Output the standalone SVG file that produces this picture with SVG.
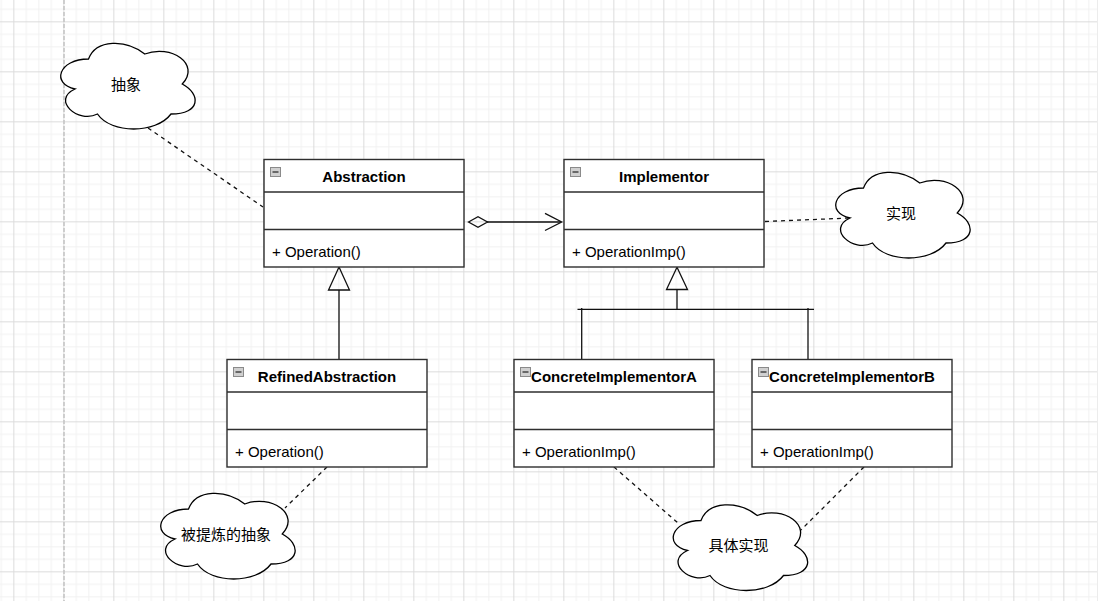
<svg xmlns="http://www.w3.org/2000/svg" width="1113" height="601" viewBox="0 0 1113 601">
<defs>
<pattern id="grid" patternUnits="userSpaceOnUse" x="13.33" y="21.33" width="50" height="50">
<rect x="12.5" y="0" width="1" height="50" fill="#f1f1f1"/>
<rect x="25" y="0" width="1" height="50" fill="#f1f1f1"/>
<rect x="37.5" y="0" width="1" height="50" fill="#f1f1f1"/>
<rect x="0" y="12.5" width="50" height="1" fill="#f1f1f1"/>
<rect x="0" y="25" width="50" height="1" fill="#f1f1f1"/>
<rect x="0" y="37.5" width="50" height="1" fill="#f1f1f1"/>
<rect x="0" y="0" width="1" height="50" fill="#dcdcdc"/>
<rect x="0" y="0" width="50" height="1" fill="#dcdcdc"/>
</pattern>
<path id="cloud" d="M37.5 25 C7.5 25 0 50 24 55 C0 66 27 90 46.5 80 C60 100 105 100 120 80 C150 80 150 60 131.25 50 C150 30 120 10 93.75 20 C75 5 45 5 37.5 25 Z"/>
<g id="icon">
<rect x="0.5" y="0.5" width="10" height="9" fill="#d0d0d0" stroke="#8a8a8a" stroke-width="1"/>
<line x1="2.5" y1="5" x2="8.5" y2="5" stroke="#303030" stroke-width="1.3"/>
</g>
</defs>
<style>
.box{fill:#fff;stroke:#2e2e2e;stroke-width:1.4}
.div{stroke:#2e2e2e;stroke-width:1.4}
.hd{font-family:"Liberation Sans",Arial,sans-serif;font-size:15px;font-weight:bold;fill:#000;text-anchor:middle}
.op{font-family:"Liberation Sans",Arial,sans-serif;font-size:15px;fill:#000}
.cl{fill:#fff;stroke:#000;stroke-width:1.3}
.ct{font-family:"Liberation Sans","Noto Sans CJK SC",sans-serif;font-size:15px;fill:#000;text-anchor:middle}
.ln{fill:none;stroke:#111;stroke-width:1.3}
.dash{fill:none;stroke:#111;stroke-width:1.3;stroke-dasharray:4 4}
</style>
<rect x="0" y="0" width="1113" height="601" fill="#fff"/>
<rect x="0" y="0" width="1097" height="601" fill="url(#grid)"/>
<line x1="1097.5" y1="0" x2="1097.5" y2="601" stroke="#ececec" stroke-width="1"/>
<line x1="64" y1="0" x2="64" y2="601" stroke="#c4c4c4" stroke-width="1.5" stroke-dasharray="4 2"/>

<g id="connectors">
<line class="dash" x1="148" y1="128" x2="263" y2="207"/>
<line class="dash" x1="765" y1="221.5" x2="850" y2="218"/>
<line class="dash" x1="327" y1="467" x2="285" y2="508"/>
<line class="dash" x1="614" y1="467" x2="678" y2="523"/>
<line class="dash" x1="864" y1="467" x2="801" y2="530"/>
<line class="ln" x1="487" y1="222" x2="561" y2="222"/>
<path class="ln" d="M468.5 222 L478 216.7 L487.5 222 L478 227.3 Z" fill="#fff"/>
<path class="ln" d="M545 213.3 L561.7 222 L545 230.5"/>
<line class="ln" x1="339" y1="290" x2="339" y2="359"/>
<path class="ln" d="M339 267 L349.5 290 L328.5 290 Z" fill="#fff"/>
<path class="ln" d="M677 267.3 L687.5 289.5 L666.5 289.5 Z" fill="#fff"/>
<line class="ln" x1="677" y1="289.5" x2="677" y2="309.3"/>
<line class="ln" x1="577.5" y1="309.3" x2="814" y2="309.3"/>
<line class="ln" x1="581.7" y1="308" x2="581.7" y2="359"/>
<line class="ln" x1="808" y1="308" x2="808" y2="359"/>
</g>

<g id="abstraction">
<rect class="box" x="264" y="159.5" width="200" height="107.5"/>
<line class="div" x1="264" y1="192" x2="464" y2="192"/>
<line class="div" x1="264" y1="229.5" x2="464" y2="229.5"/>
<use href="#icon" x="270" y="167"/>
<text class="hd" x="364" y="182">Abstraction</text>
<text class="op" x="272" y="257">+ Operation()</text>
</g>

<g id="implementor">
<rect class="box" x="564" y="159.5" width="200" height="107.5"/>
<line class="div" x1="564" y1="192" x2="764" y2="192"/>
<line class="div" x1="564" y1="229.5" x2="764" y2="229.5"/>
<use href="#icon" x="570" y="167"/>
<text class="hd" x="664" y="182">Implementor</text>
<text class="op" x="572" y="257">+ OperationImp()</text>
</g>

<g id="refined">
<rect class="box" x="227" y="359.5" width="200" height="107.5"/>
<line class="div" x1="227" y1="392" x2="427" y2="392"/>
<line class="div" x1="227" y1="429.5" x2="427" y2="429.5"/>
<use href="#icon" x="233" y="367"/>
<text class="hd" x="327" y="382">RefinedAbstraction</text>
<text class="op" x="235" y="457">+ Operation()</text>
</g>

<g id="concreteA">
<rect class="box" x="514" y="359.5" width="200" height="107.5"/>
<line class="div" x1="514" y1="392" x2="714" y2="392"/>
<line class="div" x1="514" y1="429.5" x2="714" y2="429.5"/>
<use href="#icon" x="520" y="367"/>
<text class="hd" x="614" y="382">ConcreteImplementorA</text>
<text class="op" x="522" y="457">+ OperationImp()</text>
</g>

<g id="concreteB">
<rect class="box" x="752" y="359.5" width="200" height="107.5"/>
<line class="div" x1="752" y1="392" x2="952" y2="392"/>
<line class="div" x1="752" y1="429.5" x2="952" y2="429.5"/>
<use href="#icon" x="758" y="367"/>
<text class="hd" x="852" y="382">ConcreteImplementorB</text>
<text class="op" x="760" y="457">+ OperationImp()</text>
</g>

<g id="cloud-abstract">
<use href="#cloud" class="cl" x="51" y="34"/>
<text class="ct" x="126" y="89.5">抽象</text>
</g>
<g id="cloud-impl">
<use href="#cloud" class="cl" x="826" y="163"/>
<text class="ct" x="901" y="218.5">实现</text>
</g>
<g id="cloud-refined">
<use href="#cloud" class="cl" x="151" y="484"/>
<text class="ct" x="226" y="539.5">被提炼的抽象</text>
</g>
<g id="cloud-concrete">
<use href="#cloud" class="cl" x="663.5" y="495.5"/>
<text class="ct" x="738.5" y="551">具体实现</text>
</g>
</svg>
